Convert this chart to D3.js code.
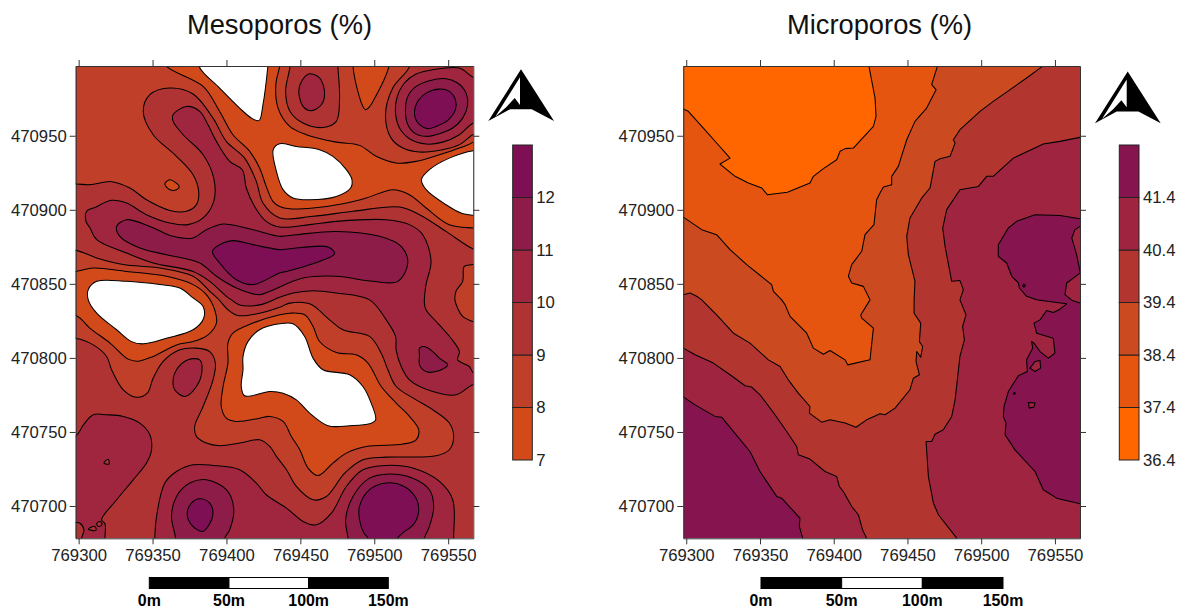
<!DOCTYPE html>
<html>
<head>
<meta charset="utf-8">
<script src="https://cdn.jsdelivr.net/npm/d3@7"></script>
<style>
  html, body { margin: 0; padding: 0; background: #fff; }
  svg { display: block; }
  text { font-family: "Liberation Sans", Arial, sans-serif; }
</style>
</head>
<body>
<div id="chart"></div>
<script>
'use strict';

// contour rings are [metres east of 769300, metres north of 470700]
var E0 = 769300, N0 = 470700;

var eastTicks = [769300, 769350, 769400, 769450, 769500, 769550];
var northTicks = [470700, 470750, 470800, 470850, 470900, 470950];
var mesoLevels = [7, 8, 9, 10, 11, 12, 13];
var mesoColors = ["#d34a1a", "#c03f28", "#b03333", "#a0263f", "#8e1c48", "#7f0f55"];
var microLevels = [36.4, 37.4, 38.4, 39.4, 40.4, 41.4, 42.4];
var microColors = ["#ff6600", "#e55510", "#cb4a1f", "#b23530", "#9f2440", "#85144f"];
var scaleMetres = [0, 50, 100, 150];

// Mesoporos, below 9
var mesoLt9Top = [[-20,310],[143,310],[143,297],[140,280],[143,266.4],[151.8,258.6],[165.3,255.6],[174.3,259.7],[176.5,275.5],[175.4,296.8],[175,310],[224,310],[224,297],[212.5,282.2],[207.6,264.2],[211.4,248.4],[219.3,241.7],[230.6,239],[246.3,240.6],[257.6,244],[266.6,250.7],[271,252],[280,240],[280,170],[267,173.5],[248.6,185.4],[230.6,196.7],[217.1,201.9],[185.6,199],[158.6,195.6],[136,194.5],[124.7,204.6],[120.2,219.2],[112.3,234.9],[99.9,246.2],[90.9,261.9],[77.4,278.2],[61.7,282.2],[48.2,277.7],[43.7,266.4],[50.4,250.7],[65,237.2],[77.4,223.7],[81.2,212.5],[79.7,203.5],[72.9,199],[61.7,199.6],[45.9,206.8],[34.7,214.7],[22.3,219],[7.7,217],[-2,217.4],[-20,217]];
var mesoLt9Mid = [[-20,172],[-2,172.6],[12.2,167.5],[30.2,163],[54.9,160.7],[77.4,155.1],[88.7,145],[95,139.2],[101,132.5],[107.8,128.6],[122.4,130.2],[136,134.2],[142.8,137],[156.3,136.5],[169.8,125.7],[178.8,119],[196.8,114.5],[204.7,103.2],[209.2,92],[214.8,80.7],[228.3,71.7],[239.6,65],[250.8,56],[253.7,47],[250.8,38],[241.8,33.9],[208.1,33],[192.3,31.2],[180,22.2],[167.6,6.4],[158.6,4.2],[147.3,13.2],[140.6,24.5],[133.8,33.5],[129.3,40.2],[122.4,44.7],[108.9,42.5],[95.4,40.7],[86.4,42.5],[79.7,47],[78.5,53.7],[84.2,67.2],[90.9,85.2],[92.5,96.5],[88.7,104.3],[79.7,106.6],[68.4,105.5],[57.2,97.6],[50.4,86.3],[46.4,76.2],[39.2,73.5],[30.2,78.5],[22.3,92],[18.9,101],[9.9,108.8],[-2,113.3],[-20,113]];
var mesoLt9Edge = [[280,165],[266.6,163],[260.9,161.8],[259.8,151.7],[255.3,145],[254.6,139],[256.4,133.6],[259.8,128],[266.6,124.6],[280,122]];

// Mesoporos, below 8
var mesoLt8Top = [[50,310],[59.4,296.8],[84.2,283.3],[95.4,266.4],[104.4,250.7],[115.7,239.5],[122.4,228.2],[126.9,215.8],[131.4,205.7],[136,202.3],[142.8,200.7],[158.6,201.2],[178.8,204.1],[194.6,208],[212.6,213.6],[223.8,210.2],[235.1,201.2],[250.8,189.9],[267,187.7],[280,187],[280,258],[267,245.7],[257.6,241.7],[244,237.2],[228.3,232.7],[214.8,231.6],[201.3,236.1],[190,243.5],[174.3,245.7],[154,250.7],[142.8,256.3],[134.9,268.7],[133.4,284.5],[136,296.8],[138,310]];
var mesoLt8Wedge = [[185.6,310],[185.6,296.8],[188.9,279.9],[192.3,269.8],[194.1,267.6],[196.4,269.2],[199.1,273.2],[209.9,296.8],[210,310]];
var mesoLt8Left = [[-20,158],[-2,158.4],[9.9,160.7],[32.4,158.4],[59.4,155.1],[77.4,149.5],[86.4,142.7],[92,132.5],[93.2,123.5],[87.5,115.6],[77.4,111],[66.2,108.8],[50.4,101],[40.3,97.8],[33.5,99.2],[21.2,110],[7.7,120],[-2,128.6],[-20,128]];
var mesoLt8Mid = [[117.9,123.5],[104.4,116.7],[101,110],[101,96.5],[97.7,80.7],[96.5,67.2],[99.9,59.3],[106.7,57.1],[122.4,59.3],[129.3,60.5],[138.3,57.1],[143.9,47],[149.6,38],[155.2,25.6],[161.9,20.6],[172,29],[181.1,35.7],[194.6,40.2],[219.3,41.8],[228.3,44.7],[230.1,51.5],[223.8,60.5],[214.8,69.5],[204.7,80.7],[195.7,96.5],[187.8,102.1],[174.3,103.7],[163,111.1],[158.6,121.2],[152.9,129.1],[142.8,130.2],[136,129.1]];
var mesoLt8Small = [[58.3,217.4],[61.7,220.3],[68,215.8],[66.2,213.6],[61.7,213.6]];

// Mesoporos, below 7 (left blank)
var mesoLt7Top = [[81,310],[81.5,296.8],[95.4,282.2],[108.9,268.7],[116.8,262],[122,260.2],[124.7,271],[128,296.8],[129,310]];
var mesoLt7Upper = [[131.6,240.6],[136,244.6],[147.3,242.8],[163,240.6],[172,236.1],[181.1,227.1],[184.9,220.3],[184,214.7],[174.3,209],[156.3,206.8],[145,208],[138.3,213.6],[133.8,226]];
var mesoLt7Right = [[280,240],[267,239.9],[250.8,234.9],[237.3,227.1],[231.9,220.3],[235.1,213.6],[248.6,203.4],[258.7,197.8],[267,196.3],[280,196]];
var mesoLt7Left = [[6.5,146.1],[12.2,151.7],[32.4,151.7],[54.9,149.5],[68.4,147.2],[77.4,140.5],[84.2,134.7],[84.6,126.8],[77.4,119],[59.4,113.3],[43.7,109.5],[35.8,111],[25.7,119],[12.2,130.2],[6.5,139.2]];
var mesoLt7Mid = [[136,123],[122.4,119],[114.5,111],[111.2,101],[111.2,92],[110,80.7],[112.3,74.4],[129.3,77.3],[138.3,76.2],[147.3,71.7],[156.3,62.7],[168.7,54.2],[183.3,54.2],[196.8,55.5],[200.9,58.2],[197.9,69.5],[192.3,80.7],[183.3,88.6],[165.3,92],[158.6,99.8],[152.9,114.5],[145,123]];

// Mesoporos, above 10
var mesoGe10Main = [[63.9,264.2],[72.9,269.8],[81.9,266.5],[87.5,257.4],[93.2,246.2],[102.2,232.7],[110.7,227.1],[113.4,214.7],[119,202.3],[126.9,192.2],[136,188.4],[156.3,190],[174.3,192.2],[208,193.3],[223.8,190],[232.8,183.2],[238.4,165.2],[235,149.5],[233.9,137],[235,132.5],[244,122.3],[251.9,113.3],[257.6,104.3],[256.4,98.7],[264.3,94.2],[267,90.1],[280,88],[280,82],[267,81.8],[255.3,75.1],[239.6,77.3],[223.8,85.2],[218.2,94.2],[214.8,105.4],[214.4,114.5],[208.1,125.7],[196.8,139.2],[174.3,143.8],[158.6,145.4],[145,143.8],[136,140.9],[122.4,135.8],[108.9,135.8],[103.3,139.2],[99.9,141.6],[88.7,151.7],[77.4,158.4],[50.4,164.1],[32.4,170.8],[12.2,179.8],[7.7,187.7],[5,192.2],[5.4,199],[11,201.6],[22.3,206.4],[32.4,204.6],[45.9,196.7],[61.7,191.1],[74,190],[84.2,194.5],[91.4,205.7],[91.4,221.4],[84.2,237.2],[70.7,250.7],[63.9,259.7]];
var mesoGe10Top = [[149.1,282.2],[155.2,291.6],[163,289],[166.4,278.8],[164.2,270.9],[157.4,266.9],[151.8,269.8]];
var mesoGe10Ring = [[267,258.6],[257.6,250.7],[246.3,245.7],[235.1,244.4],[223.8,248],[217.1,255.2],[214.4,265.3],[215.3,275.5],[220.4,285.6],[228.3,291.7],[239.6,294.6],[257.6,295.7],[267,289.4],[280,285],[280,262]];
var mesoGe10Corner = [[-20,47],[-2,47.4],[3.2,54.8],[9.9,61.6],[18.9,61.6],[30.2,60.5],[41.4,56],[48.2,48.1],[49.3,37.9],[45.9,29],[36.9,17.7],[25.7,4.2],[15.5,-9.3],[17.8,-12],[17.8,-21.7],[18,-30],[-20,-30]];
var mesoGe10Low = [[51.5,-30],[51.5,-21.7],[52.7,-7],[58.3,15.5],[66.2,23.3],[77.4,27.8],[90.9,27.4],[108.9,24.5],[120.2,15.5],[126.9,7.6],[140.6,-1.4],[151.8,-10.4],[160.8,-12.7],[171,-4.8],[181.1,13.2],[192.3,24.5],[208.1,27.4],[226,25.6],[244.1,16.6],[253.1,4.2],[253.7,-21.7],[254,-30]];
var mesoGe10Small = [[63.9,85.2],[66.2,92],[74,98.7],[81.9,98.7],[83.5,92],[79.7,80.7],[71.8,74],[65,78.5]];

// Mesoporos, above 11
var mesoGe11Ring = [[221.1,266.5],[222.7,276.6],[228.3,283.3],[237.3,287.2],[248.6,288.5],[256.4,285.6],[262.1,278.8],[263.2,270.9],[259.8,261.9],[253.1,255.2],[244,251.4],[235.1,249.6],[227.2,251.8],[222.7,257.5]];
var mesoGe11Main = [[136,182.1],[122.4,185.4],[108.9,188.8],[97.7,190.4],[86.4,186.6],[77.4,181],[63.9,182.1],[48.2,188.8],[32.4,193.3],[25.7,188.8],[27.9,182.1],[41.4,174.2],[59.4,169.7],[81.9,164.1],[93.2,155.1],[106.7,147.2],[122.4,142.7],[129.3,145],[151.8,153.9],[174.3,155.1],[199,151.7],[215.9,151.7],[222.7,164.1],[218.2,175.3],[203.6,182.1],[174.3,185.4],[147.3,183.2]];
var mesoGe11Low = [[65.5,-21.7],[62.8,-7],[66.2,6.5],[75.2,15.5],[86.4,17.7],[99.9,11],[104.9,-1.4],[102.2,-16],[98.8,-21.7],[98,-30],[65,-30]];
var mesoGe11LowRight = [[182.2,-21.7],[180.6,-9.3],[185.6,6.5],[196.8,18.8],[208,21.5],[226,18.8],[237.3,11],[240.2,-.3],[237.3,-13.8],[233.9,-21.7],[233,-30],[182,-30]];
var mesoGe11Small = [[230.6,106.6],[233.9,107.7],[239.6,104.3],[244,99.8],[249.7,95.3],[241.8,90.8],[235,90.8],[230.6,95.3],[230.6,102]];

// Mesoporos, above 12
var mesoGe12Ring = [[227.2,266.5],[229.4,273.2],[235.1,278.8],[244,281.5],[250.8,280],[254.9,274.3],[254.9,267.6],[249.7,260.4],[241.8,256.3],[236.2,254.7],[230.6,257.5],[227.9,261.5]];
var mesoGe12Main = [[90.5,172],[97.7,177.6],[104.4,179.2],[117.9,176.5],[136,173.1],[142.8,173.7],[168.7,174.9],[173.2,170.4],[156.3,162.9],[140.6,158.4],[135.9,157.3],[117.9,149.5],[106.7,152.8],[95.4,164.1]];
var mesoGe12Low = [[73.4,-4.8],[76.3,2],[81.9,4.9],[88.7,2],[90.9,-4.8],[87.5,-13.8],[83.7,-17.2],[76.3,-12.7]];
var mesoGe12LowRight = [[193,-18.3],[190,-9.3],[190,-.3],[196.8,11],[208,15.5],[219.3,13.7],[228.3,5.3],[230.1,-2.6],[227.2,-11.6],[215.9,-21.7],[215,-30],[195,-30],[195.7,-21.7]];

// Mesoporos, small pockets back under 10
var mesoDipCorner = [[-2,-11.1],[.9,-11.6],[3.6,-16.1],[2,-21.7],[2,-30],[-20,-30],[-20,-11]];
var mesoDipA = [[17.1,29],[20,31.6],[20.5,28.3]];
var mesoDipB = [[6.5,-15.6],[11,-13.8],[11.7,-16.5]];
var mesoDipC = [[12.2,-12],[14.4,-10.4],[15.8,-12.7],[13.3,-13.8]];

// Microporos, each ring encloses everything below its level
var microLt414 = [[-20,310],[280,310],[280,195],[267,194],[253.4,196.2],[236.5,196.7],[224.1,192.2],[218.4,187.7],[211.6,176.4],[211.6,168.6],[217.3,164.1],[220.7,155.1],[225.2,150.6],[225.9,147.2],[230.8,141.6],[237.6,139.2],[251.2,137.4],[258,136.5],[253.4,132.9],[248.9,130.6],[244.4,132],[239.9,125.7],[235.8,123.5],[237.6,116.7],[248.9,113.3],[250,103.2],[245.5,99.8],[239.9,104.3],[235.8,110],[234.2,111.1],[234.9,106.6],[230.8,98.7],[231.3,90.8],[225.2,87.9],[218.4,77.3],[215.5,67.2],[215,60.5],[216.8,56],[216.2,48.1],[222.9,37.9],[236.5,23.3],[242.1,11],[251.2,5.3],[267,1.5],[280,1],[280,-30],[78,-30],[79,-21.7],[76.7,-13.8],[77.1,-8.2],[64.7,5.3],[61.3,6.5],[50,23.3],[43.2,36.8],[24,60],[19.5,60.5],[6,68.3],[-2,73.7],[-20,74]];
var microLt404 = [[-20,310],[-20,107],[-2,106.6],[6,102.1],[18.4,96.5],[29.7,88.6],[39.9,81.2],[44.4,80.3],[50,75.1],[60.2,61.6],[68.1,50.3],[74.9,40.2],[76,34.6],[83.9,31.7],[94.1,23.3],[102,20],[103.8,13.2],[106.5,9.8],[112.2,-.3],[116.7,-5.9],[119.6,-16.1],[122.3,-21.7],[123,-30],[183,-30],[183.4,-21.7],[171,-5.9],[167.6,2],[164.2,19.9],[162.6,43.6],[166.4,43.6],[168.7,48.5],[174.3,51.5],[180,60.5],[182.3,71.7],[185.6,101],[188.6,112.2],[187.4,121.2],[189.7,129.1],[185.6,139.2],[187.9,146.1],[185.6,152.2],[180,151.7],[175.5,175.3],[173.9,187.7],[176.6,200.1],[185.6,213.6],[198.1,215.8],[203.7,222.6],[208.2,222.6],[221.8,234.9],[242.1,244.4],[253.4,246.2],[267,248.9],[280,249],[280,310]];
var microLt394 = [[-20,310],[-20,143],[-2,142.7],[2.6,143.8],[7.1,141.6],[10.5,139.2],[20.6,129.1],[32,116.7],[43.2,110],[55.7,98.7],[63.6,94.2],[69.2,85.2],[76,76.2],[83.9,67.2],[83.5,62.7],[91.8,56.6],[97.5,58.2],[107.7,56],[115.1,53.2],[122.3,58.2],[131.4,62.3],[134.8,61.6],[141.6,66.1],[151.7,78.5],[154,86.3],[158.1,88.6],[155.8,97.6],[156.3,104.3],[159,100.5],[160.3,107.7],[158.1,111],[159,123.5],[154.5,130.2],[154.5,139.2],[155.1,151.7],[150.6,169.7],[149.5,182.1],[151.7,194.5],[159.7,208],[165.3,214.7],[168.7,232.7],[172.1,234.5],[178.9,236.1],[182.3,245.1],[181.1,247.3],[185.6,254.1],[199.2,266.5],[208.2,273.2],[230.8,289],[241.5,296.8],[243,310]];
var microLt384 = [[-20,310],[-20,195],[-2,195.1],[10.5,186.6],[20.6,183.2],[29.7,173.1],[41,163],[57.9,149.5],[59.1,145],[64.7,139.2],[67,136],[70.4,128],[81.7,116.7],[86.2,106.6],[93,102.5],[97.5,105],[107.7,98.7],[109.5,95.3],[124.6,98.7],[126.9,120.1],[119,126.8],[118.3,129],[124.6,139.2],[120.1,148.3],[112.2,150.6],[109.9,155.1],[112.2,163],[119,172],[121.2,183.2],[127.3,190],[129.1,206.8],[131.4,211.3],[133.7,215.4],[139.3,217],[139.3,222.6],[143.8,229.3],[149.5,247.3],[155.1,259.7],[163,268.7],[169.4,281.1],[166.4,284.5],[170.3,296.8],[171,310]];
var microLt374 = [[-20,310],[-20,268],[-2,268],[1.4,266.5],[11.6,255.2],[20.6,245.1],[29.7,234.9],[22.9,230.9],[33.1,222.6],[42.1,218.1],[51.2,214.7],[55,210.2],[68.6,211.8],[83.9,218.1],[86.2,222.6],[93,227.8],[102,233.8],[104.3,239.5],[107.7,241.3],[113.3,241.7],[126.9,256.3],[128.7,263.1],[128,275.5],[123.9,296.8],[123,310]];
var microBiteA = [[280,188],[267,188.8],[263.6,186.6],[261.4,181],[264.7,169.7],[267,158.4],[280,158]];
var microBiteB = [[280,157],[267,157.3],[258,150.6],[256.8,142.7],[261.4,139],[267,137],[280,137]];
var microIslandA = [[233.1,93.1],[236.5,97.6],[239.9,98.3],[240.3,93.1],[236.5,90.8]];
var microIslandB = [[232,69.9],[236.5,69.5],[235.8,66.8],[232.6,66.1]];
var microIslandC = [[222,75.5],[223.2,76],[222.4,76.8]];
var microIslandD = [[228,148.8],[229,149.8],[230,148.8],[229,147.8]];

var width = 1189, height = 614;
var svg = d3.select("#chart").append("svg").attr("width", width).attr("height", height);

var yScale = d3.scaleLinear().domain([470678.2, 470997.1]).range([538.3, 66]);

function drawPanel(id, x0, x1, base, layers, curve, title, titleX) {
  var xScale = d3.scaleLinear().domain([769298, 769567]).range([x0, x1]);
  var line = d3.line()
    .x(function (d) { return xScale(E0 + d[0]); })
    .y(function (d) { return yScale(N0 + d[1]); })
    .curve(curve);

  svg.append("clipPath").attr("id", id).append("rect")
    .attr("x", x0).attr("y", 66).attr("width", x1 - x0).attr("height", 538.3 - 66);

  var g = svg.append("g").attr("clip-path", "url(#" + id + ")");
  g.append("rect").attr("x", x0).attr("y", 66).attr("width", x1 - x0).attr("height", 538.3 - 66).attr("fill", base);

  layers.forEach(function (layer) {
    g.selectAll(null).data(layer.rings).enter().append("path")
      .attr("d", function (d) { return line(d) + "Z"; })
      .attr("fill", layer.color)
      .attr("stroke", "#000")
      .attr("stroke-width", 1.05)
      .attr("stroke-linejoin", "round");
  });

  var fmt = d3.format("d");
  var axes = [
    ["translate(0,538.3)", d3.axisBottom(xScale).tickValues(eastTicks).tickFormat(fmt), 5],
    ["translate(0,66)", d3.axisTop(xScale).tickValues(eastTicks).tickFormat(""), 3],
    ["translate(" + x0 + ",0)", d3.axisLeft(yScale).tickValues(northTicks).tickFormat(fmt), 3],
    ["translate(" + x1 + ",0)", d3.axisRight(yScale).tickValues(northTicks).tickFormat(""), 3]
  ];
  axes.forEach(function (a) {
    var ax = svg.append("g").attr("transform", a[0]).call(a[1].tickSize(6).tickSizeOuter(0).tickPadding(a[2]));
    ax.selectAll("text").attr("font-size", 16.7).attr("fill", "#222").style("font-family", "Liberation Sans");
    ax.selectAll("line,path").attr("stroke", "#333");
  });

  svg.append("text").attr("x", titleX).attr("y", 33.5).attr("text-anchor", "middle")
    .attr("font-size", 27.3).attr("fill", "#111").text(title);
}

function drawColorbar(x0, x1, levels, colors, labelFmt) {
  var y = d3.scaleLinear().domain([levels[0], levels[levels.length - 1]]).range([460, 145]);
  var g = svg.append("g");
  g.selectAll("rect").data(colors).enter().append("rect")
    .attr("x", x0).attr("width", x1 - x0)
    .attr("y", function (d, i) { return y(levels[i + 1]); })
    .attr("height", function (d, i) { return y(levels[i]) - y(levels[i + 1]); })
    .attr("fill", function (d) { return d; })
    .attr("stroke", "#222").attr("stroke-width", 1);
  var ax = svg.append("g").attr("transform", "translate(" + x1 + ",0)")
    .call(d3.axisRight(y).tickValues(levels.slice(0, -1)).tickFormat(labelFmt).tickSize(0).tickPadding(4));
  ax.select("path").remove();
  ax.selectAll("text").attr("font-size", 16.7).attr("fill", "#222").style("font-family", "Liberation Sans");
}

function drawNorth(dx, dy) {
  var g = svg.append("g").attr("transform", "translate(" + dx + "," + dy + ")");
  g.append("path").attr("fill", "#000")
    .attr("d", "M521 69.3L554 121L531.7 109.3L510 109.3L488.3 121Z");
  g.append("path").attr("fill", "#fff")
    .attr("d", "M520 77.3L520 105L514.7 98L506.7 106.7L495.3 116.7Z");
}

function drawScaleBar(x0, x1) {
  var s = d3.scaleLinear().domain([0, 150]).range([x0, x1]);
  var g = svg.append("g");
  g.selectAll("rect").data(d3.pairs(scaleMetres)).enter().append("rect")
    .attr("x", function (d) { return s(d[0]); })
    .attr("width", function (d) { return s(d[1]) - s(d[0]); })
    .attr("y", 577.5).attr("height", 11)
    .attr("fill", function (d, i) { return i === 1 ? "#fff" : "#000"; })
    .attr("stroke", "#000").attr("stroke-width", 1);
  g.selectAll("text").data(scaleMetres).enter().append("text")
    .attr("transform", function (d) { return "translate(" + s(d) + ",605.5) scale(0.92,1)"; })
    .attr("text-anchor", "middle").attr("font-size", 17.3).attr("font-weight", "bold")
    .attr("fill", "#000").text(function (d) { return d + "m"; });
}

var mesoLayers = [
  { color: mesoColors[1], rings: [mesoLt9Top, mesoLt9Mid, mesoLt9Edge] },
  { color: mesoColors[0], rings: [mesoLt8Top, mesoLt8Wedge, mesoLt8Left, mesoLt8Mid, mesoLt8Small] },
  { color: "#fff", rings: [mesoLt7Top, mesoLt7Upper, mesoLt7Right, mesoLt7Left, mesoLt7Mid] },
  { color: mesoColors[3], rings: [mesoGe10Main, mesoGe10Top, mesoGe10Ring, mesoGe10Corner, mesoGe10Low, mesoGe10Small] },
  { color: mesoColors[2], rings: [mesoDipCorner, mesoDipA, mesoDipB, mesoDipC] },
  { color: mesoColors[4], rings: [mesoGe11Ring, mesoGe11Main, mesoGe11Low, mesoGe11LowRight, mesoGe11Small] },
  { color: mesoColors[5], rings: [mesoGe12Ring, mesoGe12Main, mesoGe12Low, mesoGe12LowRight] }
];

var microLayers = [
  { color: microColors[4], rings: [microLt414] },
  { color: microColors[3], rings: [microLt404] },
  { color: microColors[2], rings: [microLt394] },
  { color: microColors[1], rings: [microLt384] },
  { color: microColors[0], rings: [microLt374] },
  { color: microColors[4], rings: [microBiteA, microBiteB, microIslandA, microIslandB, microIslandC, microIslandD] }
];

drawPanel("clip-meso", 75.7, 473.3, mesoColors[2], mesoLayers, d3.curveCatmullRomClosed.alpha(0.5), "Mesoporos (%)", 279.5);
drawPanel("clip-micro", 683.3, 1080, microColors[5], microLayers, d3.curveLinearClosed, "Microporos (%)", 879.5);

drawColorbar(512.7, 532.3, mesoLevels, mesoColors, d3.format("d"));
drawColorbar(1119.3, 1139, microLevels, microColors, d3.format(".1f"));

drawNorth(0, 0);
drawNorth(606.7, 2.3);

drawScaleBar(149.3, 388.3);
drawScaleBar(761, 1003);
</script>
</body>
</html>
